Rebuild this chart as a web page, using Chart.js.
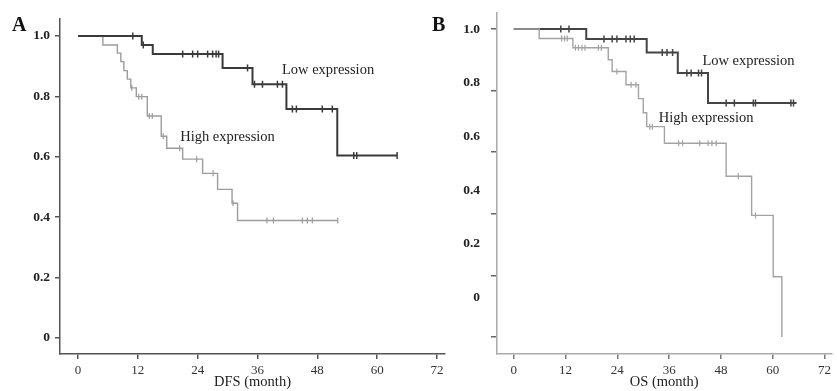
<!DOCTYPE html>
<html>
<head>
<meta charset="utf-8">
<script src="https://cdn.jsdelivr.net/npm/chart.js@4.4.0/dist/chart.umd.min.js"></script>
<style>
body{margin:0;background:#fff;width:837px;height:391px;overflow:hidden;position:relative}
canvas{position:absolute;top:0}
#dfs_chart{left:0}
#os_chart{left:420px}
.panel{position:absolute;font:bold 20px "Liberation Serif";color:#111}
</style>
</head>
<body>
<canvas id="dfs_chart" width="460" height="391"></canvas>
<canvas id="os_chart" width="417" height="391"></canvas>
<div class="panel" style="left:12px;top:13px">A</div>
<div class="panel" style="left:432px;top:13px">B</div>
<script>
// axis ticks
var xTicks = [0, 12, 24, 36, 48, 60, 72];
var yTicks = [0, 0.2, 0.4, 0.6, 0.8, 1.0];

// A - DFS, low expression
var dfsLowT = [0, 12.8, 15, 29, 35, 41.8, 52, 64];
var dfsLowS = [1.0, 0.970, 0.940, 0.894, 0.840, 0.758, 0.604, 0.604];
var dfsLowCens = [11, 13.1, 21, 23, 24, 26, 27, 27.7, 28.2, 34, 35.4, 37, 40, 41, 43, 43.8, 49, 51, 55.3, 55.9, 64];

// A - DFS, high expression
var dfsHighT = [0, 5, 7.9, 8.6, 9.2, 9.9, 10.6, 11.7, 13.9, 16.7, 17.8, 21, 25, 28, 30.9, 32, 52.1];
var dfsHighS = [1.0, 0.970, 0.943, 0.915, 0.885, 0.857, 0.828, 0.799, 0.735, 0.668, 0.628, 0.592, 0.545, 0.492, 0.446, 0.389, 0.389];
var dfsHighCens = [10.8, 12.2, 12.8, 14.3, 14.9, 17.1, 20.4, 23.8, 27.1, 31.1, 37.9, 39.2, 45, 46, 47, 52.1];

// B - OS, low expression
var osLowT = [0, 16.8, 30.8, 38.0, 45.0, 65.5];
var osLowS = [1.0, 0.968, 0.924, 0.857, 0.760, 0.760];
var osLowCens = [10.9, 12.8, 20.9, 22.8, 23.9, 26, 27, 27.9, 34.4, 35.5, 36.8, 40.1, 41.1, 42.8, 43.5, 49.2, 51.1, 55.5, 56.0, 64.2, 64.8];

// B - OS, high expression
var osHighT = [0, 5.9, 13.7, 21.9, 22.8, 26, 28.9, 30, 30.8, 34.9, 49.2, 55.1, 60.1, 62.1];
var osHighS = [1.0, 0.969, 0.939, 0.900, 0.862, 0.819, 0.774, 0.728, 0.683, 0.629, 0.522, 0.395, 0.196, 0];
var osHighCens = [11.1, 11.8, 12.4, 14.3, 15, 15.8, 16.5, 19.6, 20.3, 23.9, 27.2, 28.3, 31.5, 32.1, 38.2, 39.1, 43.1, 45, 45.9, 46.9, 52, 56];

function steps(t, s){
  return t.map((v, i) => ({x: v, y: s[i]}));
}

// censor marks sit on the curve at the last level before them
function censored(cens, t, s){
  return cens.map(c => {
    let k = 0;
    for (let i = 0; i < t.length; i++){ if (t[i] <= c) k = i; }
    return {x: c, y: s[k]};
  });
}

function lineSet(t, s, color, w){
  return {type: 'line', data: steps(t, s), stepped: 'before', borderColor: color,
    borderWidth: w, pointRadius: 0, fill: false, xAxisID: 'x', yAxisID: 'y'};
}

function censSet(cens, t, s, color, w, r){
  return {type: 'scatter', data: censored(cens, t, s), pointStyle: 'line', rotation: 90,
    pointRadius: r, borderColor: color, borderWidth: w, backgroundColor: color,
    xAxisID: 'x', yAxisID: 'y'};
}

const kmText = {
  id: 'kmText',
  afterDatasetsDraw(chart, args, opts){
    const ctx = chart.ctx, xs = chart.scales.x, ys = chart.scales.y;
    ctx.save();
    ctx.font = '14.5px "Liberation Serif"';
    ctx.fillStyle = '#222';
    ctx.textBaseline = 'middle';
    opts.items.forEach(it => ctx.fillText(it.text, xs.getPixelForValue(it.x), ys.getPixelForValue(it.y)));
    ctx.restore();
  }
};

function fixTicks(vals){
  return function(scale){ scale.ticks = vals.map(v => ({value: v})); };
}

function tickLabel(v){
  return v === 0 ? '0' : v.toFixed(1);
}

function xScale(min, max, title, axisColor, tickColor){
  return {
    type: 'linear', min: min, max: max,
    afterBuildTicks: fixTicks(xTicks),
    afterFit: s => { s.height = 37; },
    border: {color: axisColor, width: 1.5},
    grid: {drawOnChartArea: false, drawTicks: true, tickLength: 5, color: tickColor, lineWidth: 1.5},
    ticks: {color: '#333', padding: 4, maxRotation: 0, font: {family: 'Liberation Serif', size: 13}},
    title: {display: true, text: title, color: '#222', padding: {top: 0, bottom: 0},
      font: {family: 'Liberation Serif', size: 14.5}}
  };
}

const config_dfs = {
  data: {datasets: [
    lineSet(dfsLowT, dfsLowS, '#3a3a3a', 2),
    censSet(dfsLowCens, dfsLowT, dfsLowS, '#3a3a3a', 1.5, 3.5),
    lineSet(dfsHighT, dfsHighS, '#9c9c9c', 1.4),
    censSet(dfsHighCens, dfsHighT, dfsHighS, '#9c9c9c', 1.2, 3)
  ]},
  options: {
    responsive: false, animation: false,
    layout: {padding: {top: 19, right: 15, left: 0, bottom: 0}},
    plugins: {legend: {display: false}, tooltip: {enabled: false},
      kmText: {items: [{text: 'Low expression', x: 40.9, y: 0.887}, {text: 'High expression', x: 20.5, y: 0.665}]}},
    scales: {
      x: xScale(-3.6, 73.6, 'DFS (month)', '#555', '#555'),
      y: {
        type: 'linear', min: -0.053, max: 1.056,
        afterBuildTicks: fixTicks(yTicks),
        afterFit: s => { s.width = 60; },
        border: {color: '#555', width: 1.5},
        grid: {drawOnChartArea: false, drawTicks: true, tickLength: 5, color: '#555', lineWidth: 1.5},
        ticks: {color: '#222', padding: 5, callback: tickLabel,
          font: {family: 'Liberation Serif', size: 13.5, weight: 'bold'}}
      }
    }
  },
  plugins: [kmText]
};

const config_os = {
  data: {datasets: [
    lineSet(osHighT, osHighS, '#a3a3a3', 1.4),
    censSet(osHighCens, osHighT, osHighS, '#a3a3a3', 1.2, 3),
    lineSet(osLowT, osLowS, '#444', 2),
    censSet(osLowCens, osLowT, osLowS, '#444', 1.5, 3.5)
  ]},
  options: {
    responsive: false, animation: false,
    layout: {padding: {top: 13, right: 0, left: 0, bottom: 0}},
    plugins: {legend: {display: false}, tooltip: {enabled: false},
      kmText: {items: [{text: 'Low expression', x: 43.7, y: 0.894}, {text: 'High expression', x: 33.6, y: 0.711}]}},
    scales: {
      x: xScale(-3.87, 73.6, 'OS (month)', '#aaa', '#777'),
      y: {
        type: 'linear', position: 'left', weight: 0, min: -0.055, max: 1.052,
        afterBuildTicks: fixTicks(yTicks),
        afterFit: s => { s.width = 14; },
        border: {color: '#aaa', width: 1.5},
        grid: {drawOnChartArea: false, drawTicks: true, tickLength: 6, color: '#666', lineWidth: 1.5},
        ticks: {display: false}
      },
      // labels in the original sit off their tick marks, so they get their own axis
      yl: {
        type: 'linear', position: 'left', weight: 1, min: -0.212, max: 1.061,
        afterBuildTicks: fixTicks(yTicks),
        afterFit: s => { s.width = 63; },
        border: {display: false},
        grid: {display: false, drawTicks: false},
        ticks: {color: '#222', padding: 3, callback: tickLabel,
          font: {family: 'Liberation Serif', size: 13.5, weight: 'bold'}}
      }
    }
  },
  plugins: [kmText]
};

function makedfschart(){
  var ctx = document.getElementById('dfs_chart');
  var chart = new Chart(ctx, config_dfs);
  return chart;
}

function makeoschart(){
  var ctx = document.getElementById('os_chart');
  var chart = new Chart(ctx, config_os);
  return chart;
}

makedfschart();
makeoschart();
</script>
</body>
</html>
